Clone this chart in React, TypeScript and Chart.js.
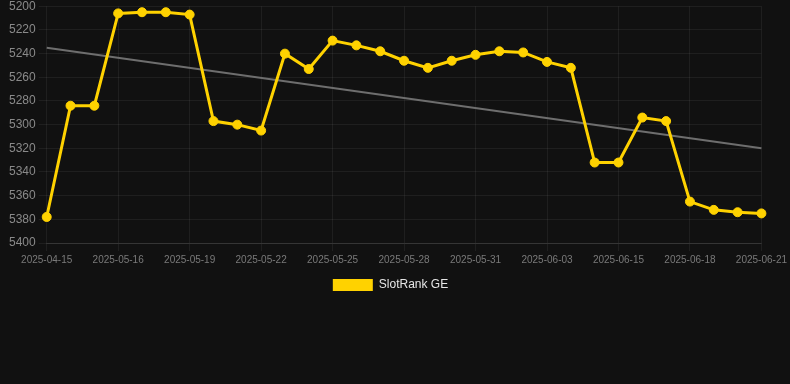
import React, { useEffect, useRef } from "react";
import { Chart, registerables } from "chart.js";

Chart.register(...registerables);

const labels = [
  "2025-04-15", "2025-05-14", "2025-05-15", "2025-05-16", "2025-05-17", "2025-05-18",
  "2025-05-19", "2025-05-20", "2025-05-21", "2025-05-22", "2025-05-23", "2025-05-24",
  "2025-05-25", "2025-05-26", "2025-05-27", "2025-05-28", "2025-05-29", "2025-05-30",
  "2025-05-31", "2025-06-01", "2025-06-02", "2025-06-03", "2025-06-04", "2025-06-14",
  "2025-06-15", "2025-06-16", "2025-06-17", "2025-06-18", "2025-06-19", "2025-06-20",
  "2025-06-21",
];

const rankValues = [
  5378, 5284, 5284, 5206, 5205, 5205, 5207, 5297, 5300, 5305, 5240, 5253,
  5229, 5233, 5238, 5246, 5252, 5246, 5241, 5238, 5239, 5247, 5252, 5332,
  5332, 5294, 5297, 5365, 5372, 5374, 5375,
];

const trendStart = 5235;
const trendEnd = 5320;

const yMin = 5200;
const yMax = 5400;
const yStep = 20;

export default function App() {
  const ref = useRef<HTMLCanvasElement | null>(null);

  useEffect(() => {
    document.body.style.margin = "0";
    const trend = labels.map((_, i) =>
      i === 0 ? trendStart : i === labels.length - 1 ? trendEnd : null
    );
    const chart = new Chart(ref.current as HTMLCanvasElement, {
      type: "line",
      data: {
        labels,
        datasets: [
          {
            label: "SlotRank GE",
            data: rankValues,
            borderColor: "#FFD200",
            backgroundColor: "#FFD200",
            borderWidth: 3,
            pointRadius: 4.5,
            pointHoverRadius: 4.5,
            pointBorderWidth: 1,
            pointBackgroundColor: "#FFD200",
            pointBorderColor: "#FFD200",
            tension: 0,
          },
          {
            label: "Trend",
            data: trend,
            borderColor: "#6e6e6e",
            backgroundColor: "#6e6e6e",
            borderWidth: 2,
            pointRadius: 0,
            spanGaps: true,
          },
        ],
      },
      options: {
        animation: false,
        responsive: true,
        maintainAspectRatio: false,
        layout: { padding: { left: 6, right: 15, top: 0, bottom: 0 } },
        plugins: {
          legend: {
            position: "bottom",
            labels: {
              color: "#e6e6e6",
              boxWidth: 40,
              font: { size: 12 },
              filter: (item) => item.text !== "Trend",
              generateLabels: (c) =>
                Chart.defaults.plugins.legend.labels
                  .generateLabels(c)
                  .map((l) => ({ ...l, lineWidth: 0 })),
            },
          },
          tooltip: { enabled: false },
        },
        scales: {
          x: {
            ticks: {
              color: "#7a7a7a",
              font: { size: 10 },
              maxRotation: 0,
              autoSkip: true,
              maxTicksLimit: 11,
            },
            grid: { color: "rgba(255,255,255,0.06)" },
            border: { color: "rgba(255,255,255,0.1)" },
          },
          y: {
            reverse: true,
            min: yMin,
            max: yMax,
            ticks: {
              stepSize: yStep,
              color: "#8a8a8a",
              font: { size: 12, lineHeight: 0.55 },
              callback: (v) => String(v),
            },
            grid: { color: "rgba(255,255,255,0.06)" },
            border: { display: false },
          },
        },
      },
    });
    return () => chart.destroy();
  }, []);

  return (
    <div style={{ width: 790, height: 384, background: "#111111" }}>
      <div style={{ position: "relative", width: 790, height: 301 }}>
        <canvas ref={ref} />
      </div>
    </div>
  );
}
